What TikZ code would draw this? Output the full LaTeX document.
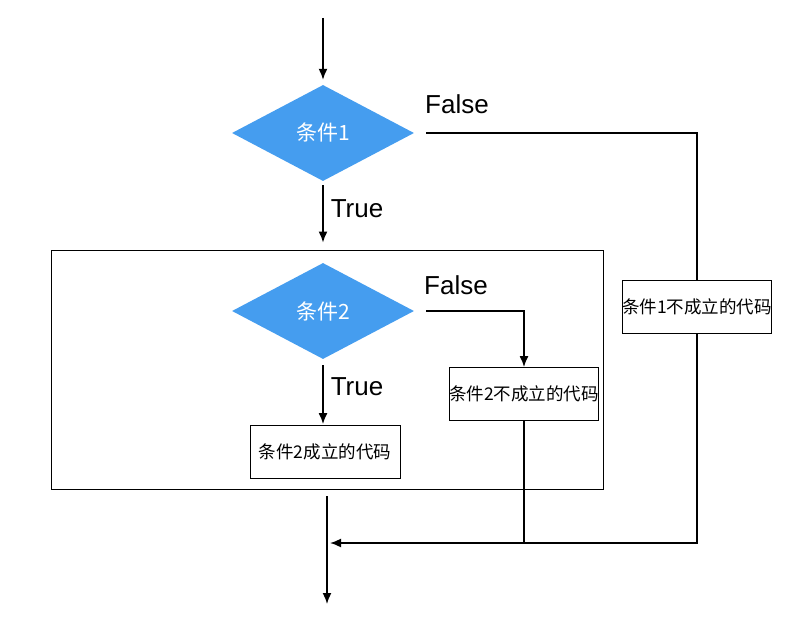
\documentclass[tikz,border=0pt]{standalone}
\usepackage{fontspec}
\setmainfont{Liberation Sans}
\newfontfamily\cjk{Noto Sans CJK SC}
\usetikzlibrary{arrows.meta,positioning,calc,shapes.geometric}
\definecolor{condblue}{HTML}{459DEF}

\begin{document}
\begin{tikzpicture}[x=1pt,y=-1pt,>={Latex[length=11pt,width=9pt]},
  cond/.style={diamond,fill=condblue,minimum width=182pt,minimum height=96pt,inner sep=0pt,text=white,font=\cjk\fontsize{21}{24}\selectfont},
  codebox/.style={draw,line width=0.8pt,minimum height=53pt,inner xsep=0pt,font=\cjk\fontsize{17.5}{20}\selectfont},
  flow/.style={line width=1.6pt},
  lbl/.style={font=\fontsize{26}{30}\selectfont,inner sep=0pt}]
\useasboundingbox (0,0) rectangle (805,620);

\node[cond] (c1) at (323,133) {条件1};
\node[cond] (c2) at (323,311) {条件2};
\node[codebox,minimum width=149pt] (n1) at (697,307) {条件1不成立的代码};
\node[codebox,minimum width=148pt] (n2) at (524,394) {条件2不成立的代码};
\node[codebox,minimum width=150pt] (y2) at (325,452) {条件2成立的代码};
\node[draw,line width=0.9pt,minimum width=552pt,minimum height=239pt] (blk) at (327,369.5) {};

\node[lbl] (f1) at (457,104) {False};
\node[lbl] (t1) at (357,209) {True};
\node[lbl] (f2) at (456,285) {False};
\node[lbl] (t2) at (357,387) {True};

\coordinate (in) at (323,18);
\coordinate (join) at (330,543);
\coordinate (out) at (327,604);

% condition 1
\draw[flow,->,shorten >=5pt] (in) -- (c1);
\draw[flow,->,shorten <=4pt,shorten >=7pt] (c1.south) -- (c1.south |- blk.north);
\draw[flow,shorten <=12pt] (c1.east) -| (n1.north);
\draw[flow,->] (n1.south) |- (join);

% condition 2
\draw[flow,->,shorten <=12pt] (c2.east) -| (n2.north);
\draw[flow,->,shorten <=6pt,shorten >=1pt] (c2.south) -- (c2.south |- y2.north);
\draw[flow] (n2.south) -- (n2.south |- join);

% exit
\draw[flow,->,shorten <=7pt] (blk.south) -- (out);
\end{tikzpicture}
\end{document}
